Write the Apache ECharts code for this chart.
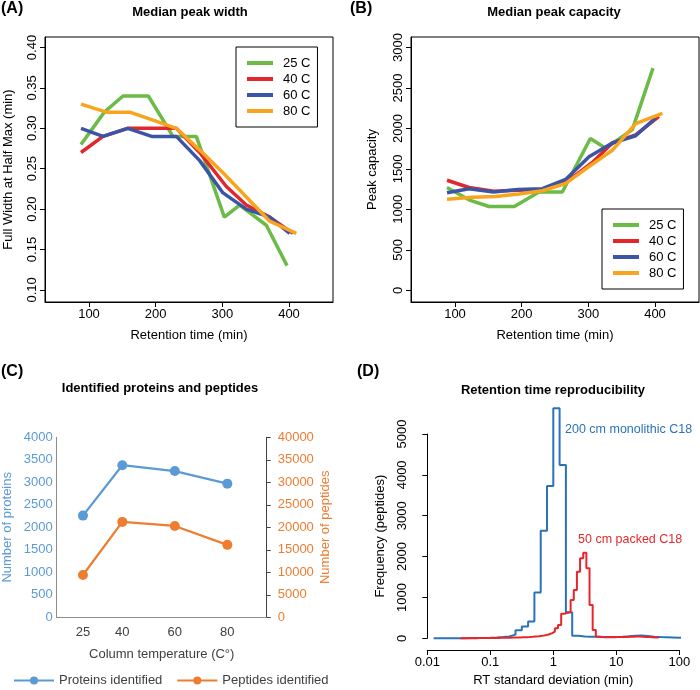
<!DOCTYPE html>
<html><head><meta charset="utf-8">
<script src="https://cdn.jsdelivr.net/npm/echarts@6/dist/echarts.min.js"></script>
<style>html,body{margin:0;padding:0;background:#fff}#c{width:700px;height:690px}</style>
</head><body><div id="c"></div>
<script>
// ---------- Panels A & B ----------
const tempNames = ['25 C', '40 C', '60 C', '80 C'];
const rt25 = [88, 123, 151, 189, 226, 261, 303, 326, 366, 397];
const rt40 = [88, 121, 158, 194, 231, 266, 306, 336, 371, 406];
const rt60 = [88, 121, 158, 194, 231, 266, 301, 336, 371, 401];
const rt80 = [88, 126, 161, 196, 231, 266, 301, 336, 371, 411];
const width25 = [0.28, 0.32, 0.34, 0.34, 0.29, 0.29, 0.19, 0.205, 0.18, 0.13];
const width40 = [0.27, 0.29, 0.30, 0.30, 0.30, 0.27, 0.228, 0.205, 0.19, 0.17];
const width60 = [0.30, 0.29, 0.30, 0.29, 0.29, 0.26, 0.22, 0.20, 0.19, 0.17];
const width80 = [0.33, 0.32, 0.32, 0.31, 0.30, 0.273, 0.245, 0.215, 0.185, 0.17];
const cap25 = [1270, 1110, 1035, 1035, 1215, 1215, 1875, 1755, 1985, 2745];
const cap40 = [1360, 1270, 1225, 1235, 1245, 1330, 1580, 1820, 1920, 2150];
const cap60 = [1205, 1255, 1215, 1245, 1255, 1370, 1650, 1820, 1910, 2130];
const cap80 = [1125, 1150, 1160, 1190, 1230, 1320, 1530, 1730, 2060, 2185];
const rtTicks = [100, 200, 300, 400];
const widthTicks = [0.10, 0.15, 0.20, 0.25, 0.30, 0.35, 0.40];
const capTicks = [0, 500, 1000, 1500, 2000, 2500, 3000];

// ---------- Panel C ----------
const columnTemp = [25, 40, 60, 80];
const proteins = [2260, 3380, 3250, 2970];
const peptides = [9400, 21200, 20300, 16100];
const tempTicks = [25, 40, 60, 80];

// ---------- Panel D (histograms on log10 bins) ----------
const monoStartExp = -1.9, monoBinWidth = 0.1;
const monoCounts = [3, 2, 3, 4, 3, 5, 6, 8, 12, 18,
  30, 45, 90, 200, 290, 410, 1120, 2630, 3730, 5630,
  4240, 640, 60, 45, 40, 38, 35, 33, 35, 40,
  50, 65, 70, 55, 40, 30, 25, 20, 15, 12];
const packedStartExp = -1.475, packedBinWidth = 0.05;
const packedCounts = [3, 4, 3, 5, 4, 6, 5, 7, 6, 8,
  9, 10, 12, 11, 14, 15, 18, 20, 22, 25,
  28, 32, 38, 45, 52, 60, 75, 95, 120, 162,
  245, 325, 600, 627, 640, 937, 1182, 1630, 1958, 2095,
  1713, 815, 203, 40, 30, 28, 30, 25, 28, 30,
  32, 30, 35, 38, 40, 45, 42, 38, 35, 30,
  25, 22, 18];
const freqTicks = [0, 1000, 2000, 3000, 4000, 5000];

// ---------- styling ----------
const FONT = '"Liberation Sans", Arial, sans-serif';
const tempColors = ['#6bbb46', '#e3262b', '#3b55a6', '#f8a51d'];
const cBlue = '#5B9BD5', cOrange = '#ED7D31';
const dBlue = '#2b73b9', dRed = '#e8262a';
const plain = v => String(v);

function pairs(xs, ys) { return xs.map((x, i) => [x, ys[i]]); }
function steps(startExp, w, counts) {
  const pts = [];
  counts.forEach((c, i) => {
    pts.push([Math.pow(10, startExp + i * w), c]);
    pts.push([Math.pow(10, startExp + (i + 1) * w), c]);
  });
  return pts;
}
const txt = (size, color, weight) => ({ fontSize: size, color: color || '#000', fontFamily: FONT, fontWeight: weight || 'normal' });

function rXAxis(gi) {
  return {
    gridIndex: gi, type: 'value', min: 34, max: 466,
    axisLine: { show: true, onZero: false, lineStyle: { color: '#000', width: 1 } },
    axisTick: { show: true, customValues: rtTicks, length: 5, inside: false, lineStyle: { color: '#000' } },
    axisLabel: Object.assign({ customValues: rtTicks, margin: 6, formatter: plain }, txt(13)),
    splitLine: { show: false },
    name: 'Retention time (min)', nameLocation: 'middle', nameGap: 27, nameTextStyle: txt(13)
  };
}
function rYAxis(gi, min, max, ticks, fmt, name, gap) {
  return {
    gridIndex: gi, type: 'value', min: min, max: max,
    axisLine: { show: true, onZero: false, lineStyle: { color: '#000', width: 1 } },
    axisTick: { show: true, customValues: ticks, length: 5, inside: false, lineStyle: { color: '#000' } },
    axisLabel: Object.assign({ customValues: ticks, rotate: 90, margin: 6, formatter: fmt }, txt(13)),
    splitLine: { show: false },
    name: name, nameLocation: 'middle', nameGap: gap, nameRotate: 90, nameTextStyle: txt(13)
  };
}

const series = [];
const rts = [rt25, rt40, rt60, rt80];
const widths = [width25, width40, width60, width80];
const caps = [cap25, cap40, cap60, cap80];
for (let k = 0; k < 4; k++) {
  series.push({ type: 'line', name: tempNames[k], xAxisIndex: 0, yAxisIndex: 0,
    data: pairs(rts[k], widths[k]), symbol: 'none',
    lineStyle: { width: 3.5, color: tempColors[k] }, itemStyle: { color: tempColors[k] } });
}
for (let k = 0; k < 4; k++) {
  series.push({ type: 'line', name: tempNames[k], xAxisIndex: 1, yAxisIndex: 1,
    data: pairs(rts[k], caps[k]), symbol: 'none',
    lineStyle: { width: 3.5, color: tempColors[k] }, itemStyle: { color: tempColors[k] } });
}
series.push({ type: 'line', name: 'Proteins identified', xAxisIndex: 2, yAxisIndex: 2,
  data: pairs(columnTemp, proteins), symbol: 'circle', symbolSize: 10,
  lineStyle: { width: 2.25, color: cBlue }, itemStyle: { color: cBlue } });
series.push({ type: 'line', name: 'Peptides identified', xAxisIndex: 2, yAxisIndex: 3,
  data: pairs(columnTemp, peptides), symbol: 'circle', symbolSize: 10,
  lineStyle: { width: 2.25, color: cOrange }, itemStyle: { color: cOrange } });
series.push({ type: 'line', name: '200 cm monolithic C18', xAxisIndex: 3, yAxisIndex: 4,
  data: steps(monoStartExp, monoBinWidth, monoCounts), symbol: 'none', clip: false,
  lineStyle: { width: 2, color: dBlue }, itemStyle: { color: dBlue } });
series.push({ type: 'line', name: '50 cm packed C18', xAxisIndex: 3, yAxisIndex: 4,
  data: steps(packedStartExp, packedBinWidth, packedCounts), symbol: 'none', clip: false,
  lineStyle: { width: 2, color: dRed }, itemStyle: { color: dRed } });

const legendR = (left, top) => ({
  data: tempNames, left: left, top: top, orient: 'vertical', icon: 'rect',
  itemWidth: 26, itemHeight: 4, itemGap: 0, padding: [8, 7, 8, 11],
  borderColor: '#000', borderWidth: 1, borderRadius: 0, backgroundColor: '#fff',
  selectedMode: false,
  textStyle: Object.assign({ lineHeight: 16, padding: [0, 0, 0, 5] }, txt(13))
});

function logFmt(v) {
  const e = Math.round(Math.log10(v));
  return e < 0 ? Math.pow(10, e).toFixed(-e) : String(Math.round(Math.pow(10, e)));
}

const gridBase = { show: false, containLabel: false, outerBoundsMode: 'none' };
const option = {
  animation: false,
  backgroundColor: '#fff',
  grid: [
    Object.assign({}, gridBase, { left: 45, top: 37, width: 288, height: 265, show: true, borderColor: '#000', borderWidth: 1, backgroundColor: 'transparent' }),
    Object.assign({}, gridBase, { left: 411, top: 37, width: 288, height: 265, show: true, borderColor: '#000', borderWidth: 1, backgroundColor: 'transparent' }),
    Object.assign({}, gridBase, { left: 56.7, top: 437.3, width: 210, height: 180 }),
    Object.assign({}, gridBase, { left: 427.3, top: 434, width: 252, height: 216 }),
    Object.assign({}, gridBase, { left: 427.3, top: 434, width: 252, height: 204.3 })
  ],
  xAxis: [
    rXAxis(0),
    rXAxis(1),
    { gridIndex: 2, type: 'value', min: 15, max: 95,
      axisLine: { show: true, onZero: false, lineStyle: { color: '#8c8c8c', width: 1 } },
      axisTick: { show: false },
      axisLabel: Object.assign({ customValues: tempTicks, margin: 9, formatter: plain }, txt(13, '#404040')),
      splitLine: { show: false },
      name: 'Column temperature (C°)', nameLocation: 'middle', nameGap: 31, nameTextStyle: txt(13, '#404040') },
    { gridIndex: 3, type: 'log', logBase: 10, min: 0.01, max: 100,
      axisLine: { show: true, onZero: false, lineStyle: { color: '#000', width: 1 } },
      axisTick: { show: true, length: 5, inside: false, lineStyle: { color: '#000' } },
      axisLabel: Object.assign({ margin: 6, formatter: logFmt }, txt(13)),
      splitLine: { show: false }, minorTick: { show: false },
      name: 'RT standard deviation (min)', nameLocation: 'middle', nameGap: 24, nameTextStyle: txt(13) },
    { gridIndex: 4, type: 'log', logBase: 10, min: 0.01, max: 100, show: false }
  ],
  yAxis: [
    rYAxis(0, 0.085, 0.413, widthTicks, v => v.toFixed(2), 'Full Width at Half Max (min)', 30),
    rYAxis(1, -145, 3130, capTicks, plain, 'Peak capacity', 32),
    { gridIndex: 2, type: 'value', position: 'left', min: 0, max: 4000, interval: 500,
      axisLine: { show: true, onZero: false, lineStyle: { color: '#8c8c8c', width: 1 } },
      axisTick: { show: false },
      axisLabel: Object.assign({ margin: 4, formatter: plain }, txt(13, cBlue)),
      splitLine: { show: false },
      name: 'Number of proteins', nameLocation: 'middle', nameRotate: 90, nameGap: 43, nameTextStyle: txt(13, cBlue) },
    { gridIndex: 2, type: 'value', position: 'right', min: 0, max: 40000, interval: 5000,
      axisLine: { show: true, onZero: false, lineStyle: { color: '#404040', width: 1 } },
      axisTick: { show: true, length: 4, inside: false, lineStyle: { color: '#404040' } },
      axisLabel: Object.assign({ margin: 11, formatter: plain }, txt(13, cOrange)),
      splitLine: { show: false },
      name: 'Number of peptides', nameLocation: 'middle', nameRotate: 90, nameGap: 52, nameTextStyle: txt(13, cOrange) },
    { gridIndex: 3, type: 'value', min: -286, max: 5000, show: false },
    { gridIndex: 4, type: 'value', min: 0, max: 5000,
      axisLine: { show: true, onZero: false, lineStyle: { color: '#000', width: 1 } },
      axisTick: { show: true, customValues: freqTicks, length: 5, inside: false, lineStyle: { color: '#000' } },
      axisLabel: Object.assign({ customValues: freqTicks, rotate: 90, margin: 18, formatter: plain }, txt(13)),
      splitLine: { show: false },
      name: 'Frequency (peptides)', nameLocation: 'middle', nameRotate: 90, nameGap: 40, nameTextStyle: txt(13) }
  ],
  legend: [
    legendR(236, 47),
    legendR(602, 209),
    { data: ['Proteins identified', 'Peptides identified'], left: 13, top: 674,
      itemWidth: 40, itemHeight: 10, itemGap: 14, selectedMode: false, padding: 0,
      textStyle: txt(13, '#404040') }
  ],
  graphic: [
    { type: 'text', x: 1, y: 9, style: { text: '(A)', font: 'bold 16px ' + FONT, fill: '#000', align: 'left', verticalAlign: 'middle' } },
    { type: 'text', x: 350, y: 9, style: { text: '(B)', font: 'bold 16px ' + FONT, fill: '#000', align: 'left', verticalAlign: 'middle' } },
    { type: 'text', x: 1, y: 372, style: { text: '(C)', font: 'bold 16px ' + FONT, fill: '#000', align: 'left', verticalAlign: 'middle' } },
    { type: 'text', x: 357, y: 372, style: { text: '(D)', font: 'bold 16px ' + FONT, fill: '#000', align: 'left', verticalAlign: 'middle' } },
    { type: 'text', x: 190, y: 12, style: { text: 'Median peak width', font: 'bold 13px ' + FONT, fill: '#000', align: 'center', verticalAlign: 'middle' } },
    { type: 'text', x: 554, y: 12, style: { text: 'Median peak capacity', font: 'bold 13px ' + FONT, fill: '#000', align: 'center', verticalAlign: 'middle' } },
    { type: 'text', x: 160, y: 388, style: { text: 'Identified proteins and peptides', font: 'bold 13px ' + FONT, fill: '#000', align: 'center', verticalAlign: 'middle' } },
    { type: 'text', x: 553, y: 390, style: { text: 'Retention time reproducibility', font: 'bold 13px ' + FONT, fill: '#000', align: 'center', verticalAlign: 'middle' } },
    { type: 'text', x: 565, y: 430, style: { text: '200 cm monolithic C18', font: '12.5px ' + FONT, fill: dBlue, align: 'left', verticalAlign: 'middle' } },
    { type: 'text', x: 578, y: 540, style: { text: '50 cm packed C18', font: '12.5px ' + FONT, fill: dRed, align: 'left', verticalAlign: 'middle' } }
  ],
  series: series
};

const chart = echarts.init(document.getElementById('c'), null, { renderer: 'canvas' });
chart.setOption(option);
</script>
</body></html>
